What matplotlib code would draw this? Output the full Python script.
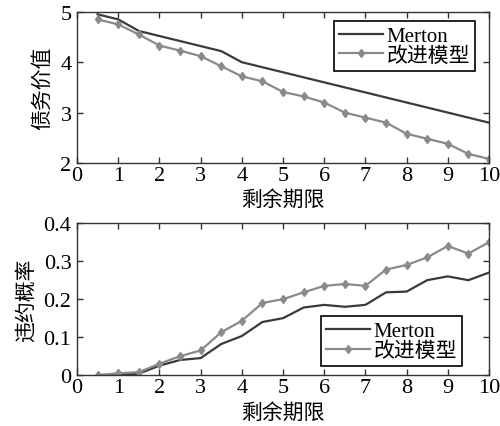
import matplotlib
matplotlib.use("Agg")
import matplotlib.pyplot as plt

plt.rcParams['font.family'] = ['Liberation Serif', 'Noto Sans CJK SC']

# Remaining term (years)
years = [0.5, 1, 1.5, 2, 2.5, 3, 3.5, 4, 4.5, 5, 5.5, 6, 6.5, 7, 7.5, 8, 8.5, 9, 9.5, 10]

# Debt value
debt_merton = [4.95, 4.85, 4.62, 4.52, 4.42, 4.32, 4.22, 4.0, 3.9, 3.8,
               3.7, 3.6, 3.5, 3.4, 3.3, 3.2, 3.1, 3.0, 2.9, 2.8]
debt_improved = [4.85, 4.75, 4.55, 4.33, 4.23, 4.12, 3.92, 3.72, 3.62, 3.41,
                 3.32, 3.2, 3.0, 2.9, 2.8, 2.58, 2.48, 2.38, 2.18, 2.08]

# Default probability
pd_merton = [0.0, 0.002, 0.004, 0.025, 0.04, 0.045, 0.082, 0.103, 0.14, 0.15,
             0.178, 0.185, 0.18, 0.185, 0.218, 0.22, 0.25, 0.26, 0.25, 0.27]
pd_improved = [0.0, 0.005, 0.008, 0.03, 0.05, 0.065, 0.113, 0.143, 0.19, 0.2,
               0.218, 0.235, 0.24, 0.235, 0.278, 0.29, 0.31, 0.34, 0.32, 0.35]

xticks = [0, 1, 2, 3, 4, 5, 6, 7, 8, 9, 10]
labels = ["Merton", "改进模型"]
xlabel = "剩余期限"

DARK = "#3a3a3a"
GREY = "#8a8a8a"
TICK_FS = 16
LABEL_FS = 15
LEG_FS = 15

fig = plt.figure(figsize=(5, 4.27), dpi=100)
ax1 = fig.add_axes([0.154, 0.616, 0.824, 0.354])
ax2 = fig.add_axes([0.154, 0.119, 0.824, 0.356])


def style(ax):
  ax.set_xlim(0, 10)
  ax.set_xticks(xticks)
  ax.tick_params(direction="in", top=True, right=True, labelsize=TICK_FS,
                 length=4, width=1, color="#333333")
  ax.tick_params(axis="x", pad=2)
  ax.tick_params(axis="y", pad=4)
  for s in ax.spines.values():
    s.set_color("#333333")
    s.set_linewidth(1)
  ax.set_xlabel(xlabel, fontsize=LABEL_FS, labelpad=4)


def legend(ax, anchor, loc):
  leg = ax.legend(loc=loc, bbox_to_anchor=anchor, bbox_transform=fig.transFigure,
                  fontsize=LEG_FS, fancybox=False, edgecolor="black", framealpha=1,
                  borderpad=0.25, handlelength=2.1, handletextpad=0.15,
                  labelspacing=0.0, borderaxespad=0)
  leg.get_frame().set_linewidth(1.2)


ax1.plot(years, debt_merton, color=DARK, lw=1.6, label=labels[0])
ax1.plot(years, debt_improved, color=GREY, lw=1.6, marker="d", ms=4.5, label=labels[1])
style(ax1)
ax1.set_ylim(2, 5)
ax1.set_yticks([2, 3, 4, 5])
ax1.set_ylabel("债务价值", fontsize=LABEL_FS, labelpad=5)
legend(ax1, (0.95, 0.948), "upper right")

ax2.plot(years, pd_merton, color=DARK, lw=1.6, label=labels[0])
ax2.plot(years, pd_improved, color=GREY, lw=1.6, marker="d", ms=4.5, label=labels[1])
style(ax2)
ax2.set_ylim(0, 0.4)
ax2.set_yticks([0, 0.1, 0.2, 0.3, 0.4])
ax2.set_yticklabels(["0", "0.1", "0.2", "0.3", "0.4"])
ax2.set_ylabel("违约概率", fontsize=LABEL_FS, labelpad=5)
legend(ax2, (0.924, 0.1405), "lower right")

fig.savefig("out.png", dpi=100)
